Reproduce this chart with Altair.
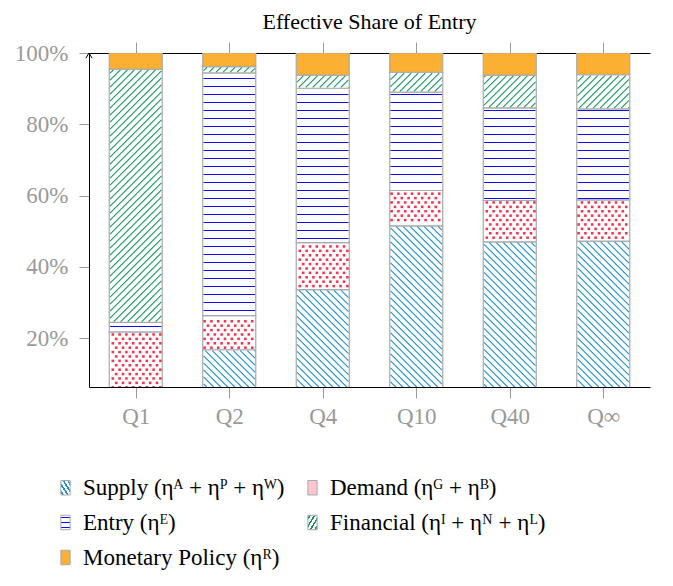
import math
import altair as alt
import pandas as pd

# ---------------- data ----------------
quarters = ["Q1", "Q2", "Q4", "Q10", "Q40", "Q∞"]
series = ["Supply", "Demand", "Entry", "Financial", "Monetary"]
series_labels = [
    "Supply (ηᴬ + ηᴾ + ηᵂ)",
    "Demand (ηᴳ + ηᴮ)",
    "Entry (ηᴱ)",
    "Financial (ηᴵ + ηᴺ + ηᴸ)",
    "Monetary Policy (ηᴿ)",
]
supply = [0.0, 16.7, 33.6, 51.5, 47.0, 47.2]
demand = [21.7, 9.6, 13.2, 9.9, 11.6, 11.6]
entry = [2.7, 68.1, 43.3, 27.6, 26.0, 25.5]
financial = [71.1, 1.8, 3.7, 5.6, 9.2, 9.6]
monetary = [4.5, 3.8, 6.2, 5.4, 6.2, 6.1]
y_ticks = [20, 40, 60, 80, 100]
# legend entries are laid out column by column (3 rows, 2 columns)
legend_order = ["Supply", "Entry", "Monetary", "Demand", "Financial"]

# ---------------- layout / style ----------------
W, H = 561, 334
YMIN, YMAX = 6.25, 100
XMIN, XMAX = -0.5, 5.5
KX = W / (XMAX - XMIN)
KY = H / (YMAX - YMIN)
HALF = 26.5 / KX
FONT = "Liberation Serif, DejaVu Serif, serif"

C_SUP = "#1a8fd8"
C_DEM = "#f5324f"
C_ENT = "#0c0cf0"
C_FIN = "#16995a"
C_MON = "#fbb034"
GRAY = "#9a9a9a"
EDGE = "#aaaaaa"

values = [supply, demand, entry, financial, monetary]
rows = []
for i, q in enumerate(quarters):
    base = 0.0
    for s, vals in zip(series, values):
        v = vals[i]
        rows.append({"q": q, "series": s, "xl": i - HALF, "xr": i + HALF,
                     "y0": base, "y1": base + v})
        base += v
bars = pd.DataFrame(rows)

# ---------------- pattern fills derived from the segments ----------------
lines = []
dots = []


def add_line(X1, Y1, X2, Y2, c):
    lines.append({"x": X1 / KX + XMIN, "y": Y1 / KY,
                  "x2": X2 / KX + XMIN, "y2": Y2 / KY, "c": c})


for r in rows:
    if r["y1"] - r["y0"] <= 0:
        continue
    xl = (r["xl"] - XMIN) * KX + 0.8
    xr = (r["xr"] - XMIN) * KX - 0.8
    yb = r["y0"] * KY + 0.8
    yt = r["y1"] * KY - 0.8
    s = r["series"]
    if s == "Financial":
        sp = 7.0
        for k in range(math.ceil((yb - xr) / sp), math.floor((yt - xl) / sp) + 1):
            c = k * sp
            lo, hi = max(xl, yb - c), min(xr, yt - c)
            if hi - lo > 0.5:
                add_line(lo, lo + c, hi, hi + c, C_FIN)
    elif s == "Supply":
        sp = 7.0
        for k in range(math.ceil((yb + xl) / sp), math.floor((yt + xr) / sp) + 1):
            c = k * sp
            lo, hi = max(xl, c - yt), min(xr, c - yb)
            if hi - lo > 0.5:
                add_line(lo, c - lo, hi, c - hi, C_SUP)
    elif s == "Entry":
        for k in range(math.ceil((yb - 2.8) / 8), math.floor((yt - 2.8) / 8) + 1):
            Y = 8 * k + 2.8
            add_line(xl, Y, xr, Y, C_ENT)
    elif s == "Demand":
        for j in range(math.ceil((yb + 0.8) / 4.4), math.floor((yt - 0.8) / 4.4) + 1):
            Y = j * 4.4
            off = 3.4 if j % 2 else 0.0
            for ii in range(math.ceil((xl + 0.8 - off) / 6.8), math.floor((xr - 0.8 - off) / 6.8) + 1):
                X = ii * 6.8 + off
                dots.append({"x": X / KX + XMIN, "y": Y / KY})

lines_df = pd.DataFrame(lines)
dots_df = pd.DataFrame(dots)


# ---------------- legend swatches (striped gradients) ----------------
def stripes_expr(color, n, x1, y1, x2, y2, lw=0.1):
    stops = ["{offset:0,color:'white'}"]
    for k in range(n):
        c = (k + 0.5) / n
        a, b = round(c - lw / 2, 4), round(c + lw / 2, 4)
        stops += [f"{{offset:{a},color:'white'}}", f"{{offset:{a},color:'{color}'}}",
                  f"{{offset:{b},color:'{color}'}}", f"{{offset:{b},color:'white'}}"]
    stops.append("{offset:1,color:'white'}")
    return alt.ExprRef(expr=f"{{gradient:'linear',x1:{x1},y1:{y1},x2:{x2},y2:{y2},stops:[{','.join(stops)}]}}")


swatch = {
    "Supply": stripes_expr(C_SUP, 4, 0, 1, 1, 0),
    "Demand": "#fbc6cf",
    "Entry": stripes_expr(C_ENT, 3, 0, 0, 0, 1, 0.1),
    "Financial": stripes_expr(C_FIN, 4, 0, 0, 1, 1),
    "Monetary": C_MON,
}

label_expr = " : ".join(
    f"datum.label == '{s}' ? '{l}'" for s, l in zip(series, series_labels)
) + " : datum.label"

legend = alt.Legend(
    title=None, orient="none", legendX=-35, legendY=423, direction="vertical",
    columns=2, columnPadding=16, rowPadding=11,
    symbolType="M-0.64,-1H0.64V1H-0.64Z", symbolSize=210, symbolOpacity=1,
    symbolStrokeColor=EDGE, symbolStrokeWidth=1,
    labelFont=FONT, labelFontSize=23, labelColor="black", labelOffset=6,
    labelLimit=0, labelExpr=label_expr,
)

x_scale = alt.Scale(domain=[XMIN, XMAX], nice=False, zero=False)
y_scale = alt.Scale(domain=[YMIN, YMAX], nice=False, zero=False)

x_expr = "[" + ",".join(f"'{q}'" for q in quarters) + "][datum.value]"
x_axis = alt.Axis(values=list(range(len(quarters))), labelExpr=x_expr, title=None, grid=False,
                  domainColor="black", domainWidth=1, tickColor=GRAY, tickSize=11,
                  labelColor=GRAY, labelFont=FONT, labelFontSize=23, labelPadding=7)
x_top_axis = alt.Axis(orient="top", values=list(range(len(quarters))), labels=False, title=None,
                      grid=False, domainColor="black", domainWidth=1, tickColor=GRAY, tickSize=11)
y_axis = alt.Axis(values=y_ticks, labelExpr="datum.value + '%'", title=None, grid=False,
                  domainColor="black", domainWidth=1, tickColor=GRAY, tickSize=10,
                  labelColor=GRAY, labelFont=FONT, labelFontSize=23, labelPadding=11)

bar_layer = alt.Chart(bars).mark_rect(stroke=EDGE, strokeWidth=1.2, clip=True).encode(
    x=alt.X("xl:Q", scale=x_scale, axis=x_axis),
    x2="xr:Q",
    y=alt.Y("y0:Q", scale=y_scale, axis=y_axis),
    y2="y1:Q",
    fill=alt.Fill("series:N", scale=alt.Scale(domain=series, range=["white"] * 4 + [C_MON]),
                  legend=None),
)

legend_layer = alt.Chart(bars).mark_rect(opacity=0, clip=True).encode(
    x=alt.X("xl:Q", scale=x_scale, axis=None),
    x2="xr:Q",
    y=alt.Y("y0:Q", scale=y_scale, axis=y_axis),
    y2="y1:Q",
    fill=alt.Fill("series:N",
                  scale=alt.Scale(domain=legend_order, range=[swatch[s] for s in legend_order]),
                  legend=legend),
)

hatch_layer = alt.Chart(lines_df).mark_rule(strokeWidth=1.1, clip=True).encode(
    x=alt.X("x:Q", scale=x_scale, axis=None),
    x2="x2:Q",
    y=alt.Y("y:Q", scale=y_scale, axis=y_axis),
    y2="y2:Q",
    stroke=alt.Stroke("c:N", scale=None),
)

dot_layer = alt.Chart(dots_df).mark_square(size=6.5, color=C_DEM, opacity=1, clip=True).encode(
    x=alt.X("x:Q", scale=x_scale, axis=None),
    y=alt.Y("y:Q", scale=y_scale, axis=y_axis),
)

arrow_layer = alt.Chart(pd.DataFrame({"k": [0]})).mark_point(
    shape="M-0.9,1.5L0,0L0.9,1.5", size=49, filled=False, stroke="black", strokeWidth=1,
    opacity=1, clip=False
).encode(
    x=alt.X(datum=XMIN, type="quantitative", scale=x_scale, axis=x_top_axis),
    y=alt.Y(datum=YMAX, type="quantitative", scale=y_scale, axis=y_axis),
)

chart = alt.layer(bar_layer, legend_layer, hatch_layer, dot_layer, arrow_layer).resolve_axis(
    x="independent", y="shared"
).resolve_scale(
    fill="independent"
).properties(
    width=W, height=H,
    title=alt.Title("Effective Share of Entry", font=FONT, fontSize=22, fontWeight="normal",
                    color="black", anchor="middle", baseline="alphabetic", offset=0, dy=9),
    autosize=alt.AutoSizeParams(type="none"),
    padding={"left": 81, "top": 45, "right": 15, "bottom": 191},
).configure_view(stroke=None).configure_legend(
    labelFont=FONT, labelFontSize=23, labelColor="black"
).configure_title(font=FONT)

chart.save("out.html", embed_options={"renderer": "svg", "actions": False})
